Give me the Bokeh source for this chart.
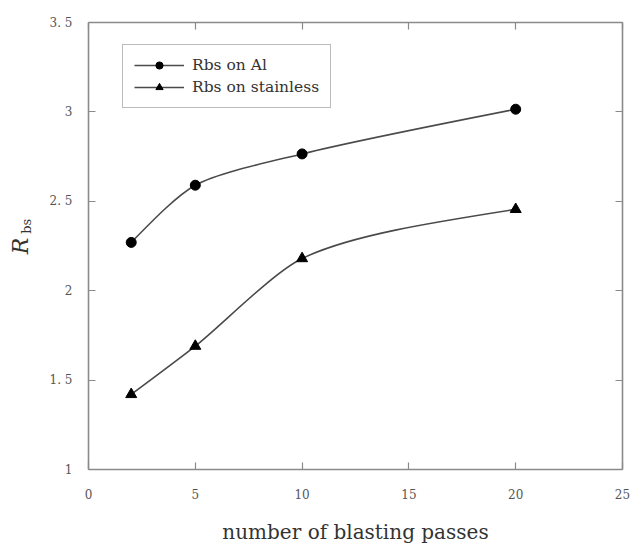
import math
from bokeh.plotting import figure
from bokeh.models import (LinearAxis, FixedTicker, Range1d, Legend, LegendItem,
                          ColumnDataSource)
from bokeh.embed import file_html
from bokeh.resources import INLINE

# ---- data ----
passes = [2, 5, 10, 20]
rbs_al = [2.27, 2.59, 2.765, 3.015]
rbs_stainless = [1.42, 1.69, 2.18, 2.455]

x_ticks = [0, 5, 10, 15, 20, 25]
x_tick_labels = ["0", "5", "10", "15", "20", "25"]
y_ticks = [1, 1.5, 2, 2.5, 3, 3.5]
y_tick_labels = ["1", "1. 5", "2", "2. 5", "3", "3. 5"]

series_names = ["Rbs on Al", "Rbs on stainless"]
x_title = "number of blasting passes"
y_title_main = "R"
y_title_sub = "bs"
y_title_sub_at = 2.36   # vertical position (in y units) of the subscript

FONT = "DejaVu Serif"
AXIS_COL = "#8a8a8a"
TXT_COL = "#555555"
LINE_COL = "#4a4a4a"

W, H = 630, 546
BL, BR, BT, BB = 88, 8, 22, 76
X0, X1, Y0, Y1 = 0, 25, 1, 3.5
sx = (W - BL - BR) / (X1 - X0)   # pixels per x unit
sy = (H - BT - BB) / (Y1 - Y0)   # pixels per y unit


def smooth_source(xs, ys, k=0.24):
    """Bezier segments through the data points (tangent = mean of unit chords)."""
    P = [(x * sx, y * sy) for x, y in zip(xs, ys)]
    n = len(P)
    chords = [(P[i + 1][0] - P[i][0], P[i + 1][1] - P[i][1]) for i in range(n - 1)]
    lens = [math.hypot(*c) for c in chords]
    units = [(c[0] / l, c[1] / l) for c, l in zip(chords, lens)]
    tang = [None] * n
    for i in range(1, n - 1):
        tx = units[i - 1][0] + units[i][0]
        ty_ = units[i - 1][1] + units[i][1]
        l = math.hypot(tx, ty_)
        tang[i] = (tx / l, ty_ / l)
    data = dict(x0=[], y0=[], x1=[], y1=[], cx0=[], cy0=[], cx1=[], cy1=[])
    for i in range(n - 1):
        a, b = P[i], P[i + 1]
        L = lens[i] * k
        q = (b[0] - tang[i + 1][0] * L, b[1] - tang[i + 1][1] * L) if tang[i + 1] else None
        if tang[i] is not None:
            c0 = (a[0] + tang[i][0] * L, a[1] + tang[i][1] * L)
        else:
            c0 = (a[0] + (q[0] - a[0]) / 2, a[1] + (q[1] - a[1]) / 2)
        if q is None:
            q = (b[0] + (c0[0] - b[0]) / 2, b[1] + (c0[1] - b[1]) / 2)
        data["x0"].append(a[0] / sx); data["y0"].append(a[1] / sy)
        data["x1"].append(b[0] / sx); data["y1"].append(b[1] / sy)
        data["cx0"].append(c0[0] / sx); data["cy0"].append(c0[1] / sy)
        data["cx1"].append(q[0] / sx); data["cy1"].append(q[1] / sy)
    return ColumnDataSource(data)


p = figure(width=W, height=H, output_backend="svg", toolbar_location=None,
           x_range=Range1d(X0, X1), y_range=Range1d(Y0, Y1),
           min_border_left=BL, min_border_right=BR, min_border_top=BT, min_border_bottom=BB,
           x_axis_label=x_title)
p.grid.visible = False
p.outline_line_color = None
p.background_fill_color = "white"
p.border_fill_color = "white"

for ax in (p.xaxis[0], p.yaxis[0]):
    ax.axis_line_color = AXIS_COL
    ax.axis_line_width = 1.6
    ax.major_tick_line_color = AXIS_COL
    ax.major_tick_line_width = 1.2
    ax.major_tick_in = 7
    ax.major_tick_out = 0
    ax.minor_tick_line_color = None
    ax.major_label_text_font = FONT
    ax.major_label_text_font_size = "12px"
    ax.major_label_text_color = TXT_COL
    ax.axis_label_text_font = FONT
    ax.axis_label_text_color = "#333333"

p.xaxis[0].ticker = FixedTicker(ticks=x_ticks)
p.xaxis[0].major_label_overrides = {t: l for t, l in zip(x_ticks, x_tick_labels)}
p.xaxis[0].major_label_standoff = 19
p.xaxis[0].axis_label_text_font_size = "20px"
p.xaxis[0].axis_label_text_font_style = "normal"
p.xaxis[0].axis_label_standoff = 18

p.yaxis[0].ticker = FixedTicker(ticks=y_ticks)
p.yaxis[0].major_label_overrides = {t: l for t, l in zip(y_ticks, y_tick_labels)}
p.yaxis[0].major_label_standoff = 16

# outer left axis: carries the y title "R" (italic) and its subscript "bs"
ty = LinearAxis(ticker=FixedTicker(ticks=[y_title_sub_at]), axis_label=y_title_main)
ty.major_label_overrides = {y_title_sub_at: y_title_sub}
ty.major_label_orientation = "vertical"
ty.major_label_text_font = FONT
ty.major_label_text_font_size = "13px"
ty.major_label_text_color = "#333333"
ty.major_label_standoff = 6
ty.axis_line_color = None
ty.major_tick_line_color = None
ty.minor_tick_line_color = None
ty.axis_label_text_font = FONT
ty.axis_label_text_font_size = "22px"
ty.axis_label_text_font_style = "italic"
ty.axis_label_text_color = "#333333"
ty.axis_label_standoff = -16
p.add_layout(ty, "left")

# top and right frame sides with inward ticks and no labels
for loc, ticks in (("above", x_ticks), ("right", y_ticks)):
    ax = LinearAxis(ticker=FixedTicker(ticks=ticks))
    ax.axis_line_color = AXIS_COL
    ax.axis_line_width = 1.6
    ax.major_tick_line_color = AXIS_COL
    ax.major_tick_line_width = 1.2
    ax.major_tick_in = 7
    ax.major_tick_out = 0
    ax.minor_tick_line_color = None
    ax.major_label_text_font_size = "0px"
    ax.major_label_text_color = None
    ax.major_label_standoff = 0
    p.add_layout(ax, loc)

src_al = smooth_source(passes, rbs_al)
src_st = smooth_source(passes, rbs_stainless)
for src in (src_al, src_st):
    p.bezier(x0="x0", y0="y0", x1="x1", y1="y1", cx0="cx0", cy0="cy0", cx1="cx1", cy1="cy1",
             source=src, line_color=LINE_COL, line_width=1.6)
m1 = p.scatter(passes, rbs_al, marker="circle", size=10, fill_color="black", line_color="black")
m2 = p.scatter(passes, rbs_stainless, marker="triangle", size=11, fill_color="black", line_color="black")

nan = float("nan")
l1 = p.line([nan, nan], [nan, nan], line_color=LINE_COL, line_width=1.6)
l2 = p.line([nan, nan], [nan, nan], line_color=LINE_COL, line_width=1.6)

legend = Legend(items=[LegendItem(label=series_names[0], renderers=[l1, m1]),
                       LegendItem(label=series_names[1], renderers=[l2, m2])],
                location=(34, 361))
legend.label_text_font = FONT
legend.label_text_font_size = "15.5px"
legend.label_text_color = "#333333"
legend.border_line_color = "#777777"
legend.border_line_width = 1.2
legend.background_fill_alpha = 1.0
legend.glyph_width = 50
legend.glyph_height = 18
legend.label_height = 18
legend.label_standoff = 8
legend.spacing = 4
legend.padding = 11
legend.margin = 0
p.add_layout(legend, "center")

open("out.html", "w").write(file_html(p, INLINE))
